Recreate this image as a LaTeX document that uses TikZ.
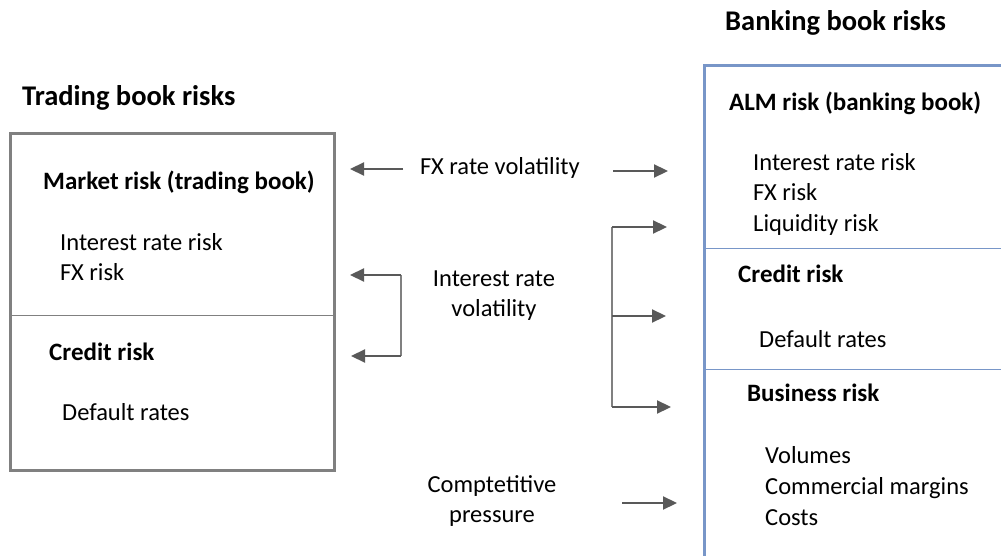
\documentclass[tikz,border=0pt]{standalone}
\usepackage{fontspec}
\setmainfont{Carlito}
\usetikzlibrary{positioning}
\usetikzlibrary{arrows.meta}
\definecolor{boxgray}{RGB}{128,128,128}
\definecolor{boxblue}{RGB}{120,150,200}
\definecolor{arrowgray}{RGB}{89,89,89}
\tikzset{
    head/.style = {font=\fontsize{28.5}{32}\selectfont\bfseries, anchor=base west, inner sep=0pt},
    title/.style = {font=\fontsize{25}{29}\selectfont\bfseries, anchor=base west, inner sep=0pt},
    item/.style = {font=\fontsize{24.5}{29}\selectfont, anchor=base west, inner sep=0pt},
    cause/.style = {font=\fontsize{24.5}{30}\selectfont, align=center, inner sep=0pt},
    link/.style = {draw=arrowgray, line width=2.2pt, -{Triangle[length=14pt,width=13pt]}},
    bar/.style = {draw=boxgray, line width=1.5pt}}
\begin{document}
\begin{tikzpicture}[x=1pt, y=-1pt]
    \useasboundingbox (0,0) rectangle (1001,556);
    % trading book
    \node[head] (T) at (22,106) {Trading book risks};
    \draw[boxgray, line width=3pt] (10,134) rectangle (334,470);
    \draw[boxgray, line width=1pt] (10,315) -- (334,315);
    \node[title] (MR) at (43,190) {Market risk (trading book)};
    \node[item] (MR1) at (60,250) {Interest rate risk};
    \node[item] (MR2) at (60,280) {FX risk};
    \node[title] (CR) at (49,360) {Credit risk};
    \node[item] (CR1) at (62,420) {Default rates};
    % banking book
    \node[head] (B) at (725,31) {Banking book risks};
    \draw[boxblue, line width=3pt] (704,66) rectangle (1015,570);
    \draw[boxblue, line width=1pt] (704,248) -- (1001,248);
    \draw[boxblue, line width=1pt] (704,369) -- (1001,369);
    \node[title] (ALM) at (729,111) {ALM risk (banking book)};
    \node[item] (ALM1) at (753,171) {Interest rate risk};
    \node[item] (ALM2) at (753,201) {FX risk};
    \node[item] (ALM3) at (753,232) {Liquidity risk};
    \node[title] (BC) at (738,282) {Credit risk};
    \node[item] (BC1) at (759,347) {Default rates};
    \node[title] (BR) at (747,401) {Business risk};
    \node[item] (BR1) at (765,463) {Volumes};
    \node[item] (BR2) at (765,494) {Commercial margins};
    \node[item] (BR3) at (765,525) {Costs};
    % drivers
    \node[item] (FX) at (420,175) {FX rate volatility};
    \node[cause] (IR) at (494,296) {Interest rate\\volatility};
    \node[cause] (CP) at (492,501) {Comptetitive\\pressure};
    % FX arrows
    \coordinate (fxa) at (403,169);
    \coordinate (fxb) at (350,169);
    \coordinate (fxc) at (613,171);
    \coordinate (fxd) at (668,171);
    \draw[link] (fxa) -- (fxb);
    \draw[link] (fxc) -- (fxd);
    % interest rate arrows
    \coordinate (la) at (401,275);
    \coordinate (lb) at (401,356);
    \coordinate (la1) at (350,275);
    \coordinate (lb1) at (351,356);
    \draw[bar] (la) -- (lb);
    \draw[link] (la) -- (la1);
    \draw[link] (lb) -- (lb1);
    \coordinate (ra) at (612,227);
    \coordinate (rb) at (612,316);
    \coordinate (rc) at (612,407);
    \coordinate (ra1) at (667,227);
    \coordinate (rb1) at (666,316);
    \coordinate (rc1) at (671,407);
    \draw[bar] (ra) -- (rc);
    \draw[link] (ra) -- (ra1);
    \draw[link] (rb) -- (rb1);
    \draw[link] (rc) -- (rc1);
    % competition arrow
    \coordinate (cpa) at (622,503);
    \coordinate (cpb) at (677,503);
    \draw[link] (cpa) -- (cpb);
\end{tikzpicture}
\end{document}
